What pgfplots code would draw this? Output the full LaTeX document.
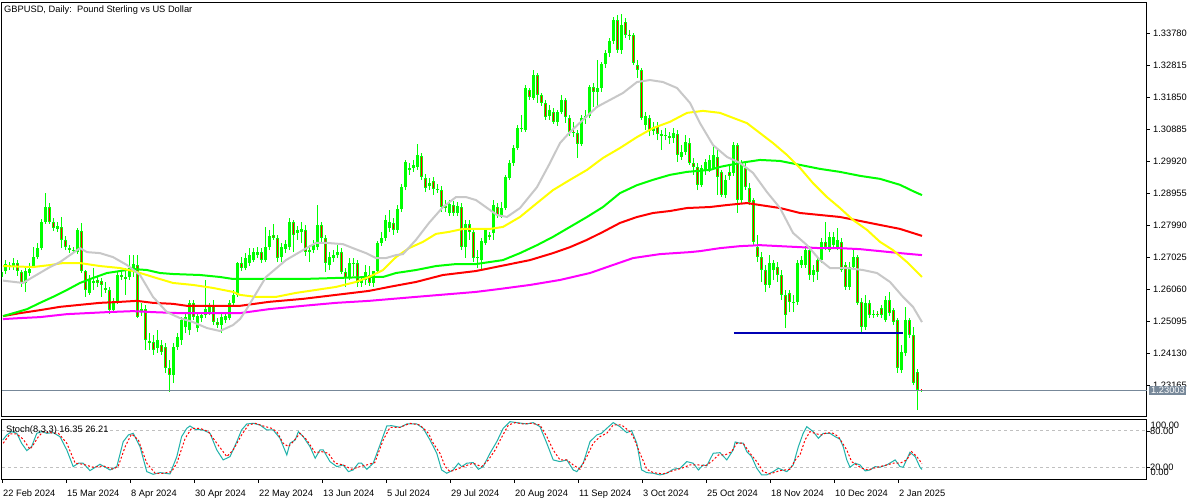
\documentclass[border=0pt]{standalone}
\usepackage{fontspec}
\setmainfont{Liberation Sans}
\usepackage{pgfplots}
\usepackage{pgfplotstable}
\pgfplotsset{compat=1.18}
\definecolor{bull}{RGB}{0,255,0}
\definecolor{bear}{RGB}{255,0,0}
\definecolor{mgn}{RGB}{255,0,255}
\definecolor{ylw}{RGB}{255,255,0}
\definecolor{gry}{RGB}{200,200,200}
\definecolor{slate}{RGB}{119,136,153}
\definecolor{stch}{RGB}{32,178,170}
\definecolor{dblue}{RGB}{0,0,180}
\definecolor{lvl}{RGB}{192,192,192}
\newcommand{\fs}{\fontsize{9.3}{11}\selectfont}

\pgfplotstableread{
i o h l c
0 1.2643 1.2676 1.2637 1.2658
1 1.2661 1.2694 1.2652 1.2682
2 1.2679 1.2688 1.2664 1.2673
3 1.2673 1.2700 1.2664 1.2685
4 1.2685 1.2694 1.2646 1.2661
5 1.2658 1.2664 1.2613 1.2625
6 1.2625 1.2670 1.2598 1.2661
7 1.2655 1.2685 1.2646 1.2667
8 1.2676 1.2733 1.2670 1.2703
9 1.2703 1.2746 1.2697 1.2730
10 1.2730 1.2818 1.2724 1.2809
11 1.2809 1.2896 1.2803 1.2854
12 1.2854 1.2866 1.2803 1.2809
13 1.2809 1.2821 1.2782 1.2791
14 1.2788 1.2809 1.2779 1.2797
15 1.2794 1.2824 1.2730 1.2755
16 1.2755 1.2767 1.2724 1.2733
17 1.2730 1.2739 1.2715 1.2724
18 1.2721 1.2733 1.2715 1.2724
19 1.2718 1.2791 1.2712 1.2785
20 1.2782 1.2806 1.2655 1.2661
21 1.2661 1.2664 1.2583 1.2604
22 1.2595 1.2649 1.2589 1.2634
23 1.2625 1.2670 1.2604 1.2631
24 1.2634 1.2646 1.2613 1.2625
25 1.2631 1.2640 1.2583 1.2619
26 1.2610 1.2628 1.2595 1.2604
27 1.2604 1.2613 1.2531 1.2543
28 1.2543 1.2580 1.2534 1.2568
29 1.2568 1.2658 1.2562 1.2649
30 1.2649 1.2664 1.2634 1.2643
31 1.2643 1.2670 1.2589 1.2637
32 1.2643 1.2709 1.2634 1.2670
33 1.2658 1.2709 1.2643 1.2682
34 1.2679 1.2709 1.2519 1.2522
35 1.2537 1.2565 1.2525 1.2546
36 1.2546 1.2559 1.2423 1.2453
37 1.2450 1.2474 1.2423 1.2444
38 1.2447 1.2468 1.2408 1.2423
39 1.2429 1.2483 1.2414 1.2453
40 1.2438 1.2453 1.2408 1.2417
41 1.2432 1.2444 1.2353 1.2369
42 1.2369 1.2393 1.2296 1.2347
43 1.2347 1.2444 1.2323 1.2432
44 1.2432 1.2474 1.2423 1.2462
45 1.2453 1.2522 1.2438 1.2513
46 1.2492 1.2534 1.2474 1.2522
47 1.2483 1.2574 1.2468 1.2565
48 1.2565 1.2574 1.2513 1.2522
49 1.2489 1.2537 1.2477 1.2525
50 1.2519 1.2537 1.2507 1.2528
51 1.2528 1.2634 1.2519 1.2546
52 1.2537 1.2565 1.2528 1.2552
53 1.2559 1.2574 1.2498 1.2507
54 1.2507 1.2519 1.2489 1.2498
55 1.2498 1.2534 1.2474 1.2522
56 1.2513 1.2537 1.2504 1.2525
57 1.2519 1.2574 1.2513 1.2565
58 1.2565 1.2604 1.2556 1.2589
59 1.2589 1.2688 1.2583 1.2685
60 1.2685 1.2703 1.2661 1.2670
61 1.2670 1.2715 1.2664 1.2700
62 1.2685 1.2730 1.2676 1.2709
63 1.2694 1.2730 1.2688 1.2718
64 1.2709 1.2733 1.2700 1.2718
65 1.2718 1.2730 1.2685 1.2694
66 1.2694 1.2794 1.2688 1.2733
67 1.2733 1.2785 1.2724 1.2767
68 1.2770 1.2803 1.2755 1.2761
69 1.2761 1.2770 1.2688 1.2700
70 1.2703 1.2746 1.2688 1.2733
71 1.2727 1.2755 1.2715 1.2742
72 1.2733 1.2821 1.2724 1.2809
73 1.2809 1.2815 1.2718 1.2770
74 1.2776 1.2797 1.2755 1.2785
75 1.2779 1.2809 1.2746 1.2788
76 1.2785 1.2800 1.2706 1.2718
77 1.2718 1.2739 1.2688 1.2724
78 1.2724 1.2755 1.2715 1.2739
79 1.2733 1.2860 1.2724 1.2800
80 1.2800 1.2809 1.2749 1.2761
81 1.2761 1.2770 1.2658 1.2685
82 1.2679 1.2718 1.2664 1.2703
83 1.2700 1.2724 1.2688 1.2709
84 1.2709 1.2739 1.2700 1.2718
85 1.2718 1.2730 1.2652 1.2658
86 1.2658 1.2670 1.2613 1.2640
87 1.2643 1.2700 1.2634 1.2685
88 1.2682 1.2700 1.2646 1.2685
89 1.2685 1.2694 1.2613 1.2625
90 1.2625 1.2646 1.2613 1.2634
91 1.2634 1.2679 1.2619 1.2658
92 1.2649 1.2676 1.2616 1.2625
93 1.2625 1.2658 1.2613 1.2661
94 1.2661 1.2752 1.2652 1.2746
95 1.2746 1.2779 1.2737 1.2761
96 1.2761 1.2830 1.2752 1.2815
97 1.2791 1.2845 1.2779 1.2809
98 1.2806 1.2821 1.2770 1.2785
99 1.2785 1.2860 1.2776 1.2848
100 1.2848 1.2923 1.2839 1.2914
101 1.2914 1.2996 1.2905 1.2990
102 1.2966 1.2987 1.2951 1.2972
103 1.2972 1.2996 1.2960 1.2981
104 1.2975 1.3044 1.2966 1.3011
105 1.3008 1.3017 1.2936 1.2945
106 1.2942 1.2954 1.2899 1.2911
107 1.2917 1.2942 1.2905 1.2926
108 1.2932 1.2945 1.2890 1.2908
109 1.2905 1.2923 1.2896 1.2908
110 1.2905 1.2917 1.2839 1.2854
111 1.2857 1.2875 1.2839 1.2851
112 1.2836 1.2875 1.2827 1.2863
113 1.2860 1.2872 1.2827 1.2836
114 1.2836 1.2869 1.2827 1.2857
115 1.2854 1.2866 1.2724 1.2733
116 1.2733 1.2815 1.2700 1.2803
117 1.2803 1.2815 1.2755 1.2779
118 1.2779 1.2791 1.2688 1.2700
119 1.2700 1.2724 1.2670 1.2703
120 1.2694 1.2761 1.2667 1.2752
121 1.2746 1.2791 1.2739 1.2785
122 1.2770 1.2779 1.2755 1.2764
123 1.2776 1.2875 1.2755 1.2860
124 1.2854 1.2866 1.2821 1.2830
125 1.2824 1.2869 1.2821 1.2851
126 1.2851 1.2951 1.2845 1.2945
127 1.2942 1.2996 1.2936 1.2987
128 1.2987 1.3041 1.2978 1.3032
129 1.3032 1.3102 1.3026 1.3092
130 1.3089 1.3132 1.3080 1.3092
131 1.3086 1.3222 1.3080 1.3213
132 1.3207 1.3213 1.3177 1.3186
133 1.3183 1.3267 1.3177 1.3252
134 1.3252 1.3258 1.3168 1.3192
135 1.3192 1.3198 1.3159 1.3168
136 1.3168 1.3177 1.3117 1.3126
137 1.3129 1.3162 1.3117 1.3147
138 1.3141 1.3153 1.3105 1.3111
139 1.3111 1.3147 1.3099 1.3141
140 1.3141 1.3192 1.3135 1.3177
141 1.3177 1.3183 1.3108 1.3126
142 1.3123 1.3132 1.3068 1.3080
143 1.3080 1.3111 1.3065 1.3077
144 1.3077 1.3086 1.3002 1.3044
145 1.3044 1.3132 1.3038 1.3123
146 1.3123 1.3147 1.3105 1.3129
147 1.3129 1.3222 1.3123 1.3216
148 1.3216 1.3228 1.3156 1.3201
149 1.3201 1.3297 1.3153 1.3213
150 1.3213 1.3291 1.3201 1.3285
151 1.3285 1.3328 1.3273 1.3319
152 1.3319 1.3364 1.3307 1.3355
153 1.3355 1.3427 1.3346 1.3418
154 1.3418 1.3433 1.3319 1.3328
155 1.3328 1.3436 1.3316 1.3403
156 1.3412 1.3424 1.3364 1.3373
157 1.3373 1.3388 1.3358 1.3370
158 1.3373 1.3379 1.3282 1.3288
159 1.3282 1.3297 1.3243 1.3267
160 1.3267 1.3273 1.3117 1.3123
161 1.3102 1.3141 1.3086 1.3129
162 1.3123 1.3132 1.3068 1.3083
163 1.3083 1.3111 1.3071 1.3095
164 1.3098 1.3111 1.3056 1.3074
165 1.3074 1.3086 1.3026 1.3068
166 1.3068 1.3092 1.3056 1.3071
167 1.3068 1.3080 1.3044 1.3062
168 1.3062 1.3092 1.3047 1.3077
169 1.3074 1.3086 1.2990 1.3011
170 1.3005 1.3041 1.2996 1.3020
171 1.3020 1.3071 1.3011 1.3050
172 1.3047 1.3062 1.2981 1.2987
173 1.2987 1.3002 1.2951 1.2975
174 1.2975 1.2987 1.2905 1.2920
175 1.2920 1.2981 1.2914 1.2972
176 1.2966 1.2999 1.2951 1.2990
177 1.2966 1.3011 1.2960 1.2996
178 1.2972 1.3041 1.2966 1.3011
179 1.3005 1.3026 1.2890 1.2945
180 1.2960 1.2966 1.2884 1.2890
181 1.2890 1.2951 1.2881 1.2936
182 1.2960 1.2981 1.2936 1.2948
183 1.2957 1.3050 1.2948 1.3041
184 1.3041 1.3047 1.2836 1.2875
185 1.2875 1.2996 1.2866 1.2987
186 1.2972 1.2990 1.2905 1.2914
187 1.2911 1.2926 1.2860 1.2869
188 1.2875 1.2881 1.2739 1.2749
189 1.2733 1.2770 1.2688 1.2703
190 1.2703 1.2718 1.2628 1.2664
191 1.2664 1.2679 1.2598 1.2619
192 1.2619 1.2709 1.2610 1.2685
193 1.2664 1.2694 1.2634 1.2685
194 1.2673 1.2688 1.2628 1.2649
195 1.2649 1.2664 1.2574 1.2589
196 1.2589 1.2604 1.2489 1.2528
197 1.2595 1.2604 1.2537 1.2568
198 1.2565 1.2589 1.2537 1.2568
199 1.2568 1.2694 1.2559 1.2685
200 1.2679 1.2706 1.2670 1.2694
201 1.2679 1.2736 1.2670 1.2724
202 1.2724 1.2736 1.2634 1.2649
203 1.2649 1.2679 1.2628 1.2664
204 1.2694 1.2700 1.2634 1.2658
205 1.2694 1.2761 1.2685 1.2749
206 1.2749 1.2809 1.2724 1.2733
207 1.2724 1.2779 1.2718 1.2764
208 1.2739 1.2779 1.2730 1.2764
209 1.2733 1.2791 1.2724 1.2755
210 1.2749 1.2761 1.2658 1.2664
211 1.2679 1.2688 1.2604 1.2613
212 1.2613 1.2688 1.2604 1.2673
213 1.2673 1.2724 1.2664 1.2703
214 1.2703 1.2709 1.2559 1.2565
215 1.2568 1.2580 1.2477 1.2492
216 1.2492 1.2589 1.2483 1.2565
217 1.2565 1.2574 1.2519 1.2528
218 1.2528 1.2543 1.2519 1.2531
219 1.2531 1.2540 1.2522 1.2528
220 1.2549 1.2559 1.2519 1.2528
221 1.2513 1.2586 1.2507 1.2574
222 1.2574 1.2598 1.2525 1.2534
223 1.2543 1.2549 1.2498 1.2507
224 1.2513 1.2519 1.2353 1.2368
225 1.2362 1.2438 1.2353 1.2417
226 1.2414 1.2552 1.2405 1.2513
227 1.2513 1.2519 1.2459 1.2468
228 1.2468 1.2492 1.2317 1.2323
229 1.2356 1.2365 1.2242 1.2302
230 1.2301 1.2305 1.2297 1.2300
}\candles

\begin{document}
\begin{tikzpicture}[x=1pt,y=1pt]
\fill[white] (0,0) rectangle (1200,-500);
\begin{axis}[
  at={(2pt,-3pt)}, anchor=north west, scale only axis,
  width=1145pt, height=414pt,
  xmin=0, xmax=286.25, ymin=1.222073, ymax=1.346935,
  xtick=\empty,
  ytick={1.23165,1.24130,1.25095,1.26060,1.27025,1.27990,1.28955,1.29920,1.30885,1.31850,1.32815,1.33780},
  yticklabels={1.23165,1.24130,1.25095,1.26060,1.27025,1.27990,1.28955,1.29920,1.30885,1.31850,1.32815,1.33780},
  ytick pos=right, yticklabel pos=right,
  tick align=outside, major tick length=3pt,
  tick style={black, line width=0.8pt},
  yticklabel style={font=\fs, anchor=west, inner sep=0pt, xshift=3pt},
  axis line style={black, line width=1pt},
]
\addplot[bull, mark=none, line width=1pt, quiver={u=0, v=\thisrow{h}-\thisrow{l}}] table[x=i, y=l] {\candles};
\addplot[bull, mark=none, line width=3pt, quiver={u=0, v=\thisrow{c}-\thisrow{o}}] table[x=i, y=o] {\candles};
\addplot[bear, mark=none, line width=1pt, quiver={u=0, v=\thisrow{c}-\thisrow{o}, every arrow/.append style={shorten <=1pt, shorten >=1pt}}, restrict expr to domain={\thisrow{o}-\thisrow{c}}{0.00005:1}] table[x=i, y=o] {\candles};
\addplot[mgn, line width=2pt, mark=none] coordinates {(0.25,1.2516) (4.5,1.2519) (9.5,1.2522) (16.25,1.2531) (21.25,1.2534) (26.25,1.2537) (32.75,1.2540) (37.75,1.2537) (44.5,1.2534) (59.5,1.2534) (66.75,1.2546) (75.25,1.2556) (83.5,1.2565) (91.75,1.2571) (103.5,1.2583) (118.5,1.2598) (124.5,1.2607) (132,1.2619) (139.5,1.2634) (147,1.2655) (152,1.2676) (157.75,1.2700) (164.5,1.2712) (172,1.2718) (174.5,1.2721) (179.5,1.2730) (184.5,1.2736) (189.5,1.2739) (194.5,1.2736) (199.5,1.2733) (204.5,1.2730) (209.5,1.2730) (214.5,1.2727) (219.5,1.2721) (224.5,1.2715) (230,1.2709)};
\addplot[bear, line width=2pt, mark=none] coordinates {(0.25,1.2525) (4.5,1.2534) (9.5,1.2543) (14.5,1.2553) (19.5,1.2559) (24.5,1.2565) (29.5,1.2568) (33.75,1.2571) (37.75,1.2565) (42.75,1.2562) (46.25,1.2556) (59.5,1.2556) (66.75,1.2568) (75.25,1.2577) (83.5,1.2589) (91.75,1.2601) (96.75,1.2613) (103.5,1.2628) (110.25,1.2649) (118.5,1.2661) (132,1.2694) (137.75,1.2715) (142,1.2733) (146.25,1.2755) (150.25,1.2779) (154.5,1.2806) (158.75,1.2824) (162.75,1.2836) (167,1.2842) (171.25,1.2851) (177,1.2854) (181.25,1.2860) (186.25,1.2866) (189.5,1.2860) (194.5,1.2851) (199.5,1.2836) (204.5,1.2830) (209.5,1.2824) (214.5,1.2812) (219.5,1.2800) (224.5,1.2788) (230,1.2767)};
\addplot[bull, line width=2pt, mark=none] coordinates {(0.25,1.2525) (3.75,1.2537) (6.25,1.2546) (9.5,1.2565) (12.75,1.2583) (16.25,1.2604) (19.5,1.2625) (22.75,1.2640) (26.25,1.2655) (29.5,1.2661) (32.75,1.2667) (36.25,1.2664) (39.5,1.2655) (42.75,1.2652) (49.5,1.2649) (54.5,1.2643) (57.75,1.2637) (66.75,1.2637) (75.25,1.2637) (83.5,1.2640) (91.75,1.2643) (95.25,1.2643) (98.5,1.2655) (103.5,1.2664) (108.5,1.2676) (113.5,1.2682) (118.5,1.2682) (125.25,1.2694) (129.5,1.2715) (133.75,1.2739) (137.75,1.2764) (142,1.2794) (146.25,1.2824) (150.25,1.2854) (154.5,1.2896) (158.75,1.2920) (162.75,1.2936) (167,1.2951) (171.25,1.2960) (177,1.2966) (179.5,1.2975) (184.5,1.2987) (189.5,1.2996) (194.5,1.2993) (199.5,1.2981) (204.5,1.2969) (209.5,1.2960) (214.5,1.2948) (219.5,1.2939) (224.5,1.2921) (227.75,1.2902) (230,1.2890)};
\addplot[ylw, line width=2pt, mark=none] coordinates {(0.25,1.2676) (7.75,1.2673) (12,1.2679) (15.25,1.2685) (19.5,1.2685) (24.5,1.2676) (29.5,1.2670) (33.75,1.2658) (37.75,1.2643) (42.75,1.2625) (47.75,1.2619) (52.75,1.2610) (57.75,1.2598) (59.5,1.2589) (63.5,1.2583) (68.5,1.2583) (73.5,1.2595) (78.5,1.2604) (83.5,1.2613) (88.5,1.2628) (91.75,1.2643) (95.25,1.2664) (98.5,1.2703) (101.75,1.2730) (105.25,1.2749) (108.5,1.2773) (111.75,1.2779) (115.25,1.2788) (118.5,1.2788) (122,1.2788) (125.25,1.2794) (129.5,1.2824) (133.75,1.2866) (137.75,1.2905) (142,1.2936) (146.25,1.2966) (150.25,1.3002) (154.5,1.3032) (158.75,1.3065) (162.75,1.3092) (167,1.3111) (171.25,1.3138) (175.25,1.3144) (179.5,1.3138) (182.75,1.3123) (186.25,1.3107) (189.5,1.3077) (192.75,1.3047) (196.25,1.3011) (199.5,1.2972) (202.75,1.2926) (206.25,1.2884) (209.5,1.2851) (212.75,1.2815) (216.25,1.2785) (219.5,1.2749) (222.75,1.2724) (226.25,1.2688) (230,1.2643)};
\addplot[gry, line width=2pt, mark=none] coordinates {(0.25,1.2632) (5.25,1.2625) (7.75,1.2643) (12,1.2673) (14.5,1.2688) (19.5,1.2730) (21.25,1.2718) (24.5,1.2715) (27.75,1.2703) (31.25,1.2679) (34.5,1.2649) (37.75,1.2583) (41.25,1.2537) (44.5,1.2519) (47.75,1.2507) (51.25,1.2489) (54.5,1.2480) (57.75,1.2498) (59.5,1.2516) (61,1.2543) (66,1.2643) (71,1.2694) (75.25,1.2724) (78.5,1.2746) (81,1.2746) (85.25,1.2742) (87.75,1.2730) (91,1.2715) (93.5,1.2700) (96,1.2700) (98.5,1.2709) (100.25,1.2712) (103.5,1.2755) (106.75,1.2806) (110.25,1.2854) (113.5,1.2884) (116,1.2884) (118.5,1.2875) (120.25,1.2860) (123.75,1.2830) (126.25,1.2824) (129.5,1.2851) (133.75,1.2914) (137,1.2987) (139.5,1.3047) (142,1.3080) (145.25,1.3117) (148.75,1.3156) (152,1.3177) (155.25,1.3198) (158.75,1.3231) (162,1.3237) (165.25,1.3231) (168.75,1.3213) (172,1.3168) (174.5,1.3107) (177.75,1.3041) (181.25,1.3005) (184.5,1.2987) (187.75,1.2957) (191.25,1.2899) (194.5,1.2851) (197.75,1.2776) (201.25,1.2739) (204.5,1.2694) (207,1.2670) (211.25,1.2670) (215.25,1.2664) (218.75,1.2655) (222,1.2628) (225.25,1.2583) (227.75,1.2553) (230,1.2507)};
\addplot[dblue, line width=2pt, mark=none] coordinates {(183,1.2475) (225.2,1.2475)};
\addplot[slate, line width=1pt, mark=none] coordinates {(0,1.23003) (286.25,1.23003)};
\end{axis}

\begin{axis}[
  at={(2pt,-419.5pt)}, anchor=north west, scale only axis,
  width=1145pt, height=59.5pt,
  xmin=0, xmax=286.25, ymin=0.5, ymax=99,
  xtick={0,16,...,224},
  xticklabels={22 Feb 2024,15 Mar 2024,8 Apr 2024,30 Apr 2024,22 May 2024,13 Jun 2024,5 Jul 2024,29 Jul 2024,20 Aug 2024,11 Sep 2024,3 Oct 2024,25 Oct 2024,18 Nov 2024,10 Dec 2024,2 Jan 2025},
  xtick pos=bottom, ytick={20,80}, yticklabels={}, ytick pos=right,
  tick align=outside, major tick length=3.5pt,
  tick style={black, line width=0.8pt},
  xticklabel style={font=\fs, anchor=base west, inner sep=0pt, xshift=1pt, yshift=-13.5pt},
  axis line style={black, line width=1pt},
]
\addplot[lvl, line width=1pt, dash pattern=on 3pt off 3pt, mark=none] coordinates {(0,80) (286.25,80)};
\addplot[lvl, line width=1pt, dash pattern=on 3pt off 3pt, mark=none] coordinates {(0,20) (286.25,20)};
\addplot[stch, line width=1pt, mark=none] coordinates {(0.2,65.1) (1.2,73.4) (2.4,78.9) (3.7,76.2) (4.9,59.7) (6.2,47.5) (7.4,54.1) (8.7,76.2) (9.9,78.9) (11.2,76.2) (12.8,77.2) (14.5,70.6) (16.2,48.6) (17.8,21.0) (19.1,26.6) (20.3,26.6) (22,14.4) (24.5,24.9) (27,15.5) (28.7,21.0) (30.3,62.3) (31.6,73.4) (32.8,76.2) (34.5,54.1) (36.2,12.7) (37.8,8.3) (39.5,11.1) (42,8.9) (43.7,37.5) (44.9,70.6) (46.2,84.4) (47,88.3) (48.3,82.7) (50.3,81.7) (52,76.2) (53.7,48.6) (55.3,32.1) (57,37.5) (58.7,62.3) (59.9,81.7) (61.2,91.6) (62.8,92.7) (64.5,89.9) (66.2,81.7) (67.8,81.7) (69.5,67.9) (71.2,40.3) (72,59.7) (73.3,65.1) (74.1,78.9) (75.3,70.6) (77,54.1) (78.3,34.9) (79.5,48.6) (80.3,48.6) (82,29.3) (83.7,21.0) (85.3,23.8) (86.6,12.7) (87.8,15.5) (89.1,26.6) (89.9,26.6) (91.2,16.6) (92.8,26.6) (94.5,56.9) (96.2,88.3) (97.4,88.8) (99.5,86.0) (101.2,91.6) (103.7,91.6) (105.3,84.4) (107,65.1) (108.7,43.1) (109.9,15.5) (111.2,10.0) (112.8,15.5) (114.1,26.6) (114.9,21.0) (116.2,26.6) (117.8,27.7) (119.1,16.6) (120.3,21.0) (122,43.1) (123.7,62.3) (125.3,84.4) (127,95.4) (128.7,93.8) (131.2,91.6) (132.8,93.8) (134.5,87.1) (136.2,59.7) (137.8,32.1) (139.5,29.3) (141.2,32.1) (142.8,15.5) (143.7,12.7) (145.3,26.6) (147,62.3) (148.7,73.4) (149.9,76.2) (151.2,84.4) (152.8,93.8) (154.5,87.1) (156.2,77.2) (157.4,80.6) (158.7,59.7) (159.9,15.5) (161.2,11.1) (162.8,10.0) (164.5,7.3) (166.2,10.0) (167.8,16.6) (169.5,18.3) (171.2,29.3) (172.8,26.6) (174.1,15.5) (175.3,23.8) (176.2,22.2) (177.8,43.1) (179.5,44.1) (181.2,32.1) (182.8,48.6) (183.3,61.8) (184.5,59.7) (185.3,59.7) (186.2,45.8) (187.4,37.5) (188.7,18.3) (189.9,7.3) (191.2,7.3) (192.8,12.7) (194.1,18.3) (196.2,12.7) (197.8,23.8) (199.1,54.1) (200.3,76.2) (201.2,87.1) (202.8,78.9) (204.1,67.9) (205.3,76.2) (207,76.2) (208.3,70.6) (209.5,66.3) (210.3,54.1) (211.2,32.1) (212,20.0) (213.3,26.6) (214.5,23.8) (215.8,13.9) (217,15.5) (218.3,21.0) (219.5,20.0) (221.2,23.8) (223.3,32.1) (224.5,21.0) (225.3,20.0) (227,44.8) (228.3,37.5) (229.5,20.0) (230,16.35)};
\addplot[bear, line width=1pt, dash pattern=on 2pt off 2pt, mark=none] coordinates {(0.3,59.7) (2,75.1) (3.7,75.1) (5.3,66.3) (7,49.7) (7.8,56.9) (9.1,70.6) (10.3,78.9) (12,77.2) (14.1,76.2) (16.2,59.7) (18.3,26.6) (20.3,24.9) (22.8,19.9) (25.3,22.2) (27.8,16.6) (29.1,22.2) (30.8,54.1) (32.4,75.1) (34.1,65.1) (36.2,26.6) (38.3,10.0) (40.3,10.0) (42.4,12.7) (43.7,26.6) (45.8,67.9) (47.4,84.4) (49.5,84.4) (51.6,78.9) (53.7,59.7) (56.2,37.5) (57.8,48.6) (59.9,73.4) (61.6,89.9) (63.3,92.7) (65.3,88.3) (67.4,84.4) (68.7,78.9) (70.3,59.7) (71.6,54.1) (72.8,62.3) (74.5,76.2) (76.2,65.1) (78.3,44.1) (79.9,45.8) (81.6,43.1) (83.3,26.6) (85.3,23.8) (87.4,16.6) (89.5,21.0) (91.2,23.8) (93.2,27.7) (95.3,65.1) (97,86.0) (99.5,86.0) (102,92.7) (104.5,89.9) (106.6,76.2) (107.8,59.7) (109.5,43.1) (110.8,21.0) (112,12.7) (113.7,16.6) (115.8,22.2) (117.8,26.6) (119.9,21.0) (121.6,32.1) (123.3,48.6) (125,70.6) (126.6,89.9) (128.3,93.8) (130.3,91.6) (132.4,92.7) (134.5,89.9) (136.2,70.6) (137.8,48.6) (139.5,32.1) (141.2,32.1) (142.8,23.8) (144.5,16.6) (146.2,37.5) (147.8,59.7) (149.5,70.6) (151.2,76.2) (152.8,89.9) (154.9,89.9) (157,78.9) (157.8,70.6) (159.5,43.1) (161.2,16.6) (162.8,11.1) (165.3,8.9) (167.8,14.4) (169.9,18.3) (172,23.8) (174.1,23.8) (175.8,22.2) (177.4,29.3) (179.1,40.3) (180.8,40.3) (182.4,45.8) (183.7,59.7) (185.3,59.7) (187,43.1) (188.7,29.3) (190.3,12.7) (192,8.9) (194.5,14.4) (197,16.6) (198.6,34.9) (199.5,40.3) (200.75,65.1) (202,78.9) (203.7,75.1) (204.9,73.4) (206.2,77.2) (207.8,76.2) (209.1,70.6) (209.9,62.3) (211.2,48.6) (212.4,29.3) (213.7,23.8) (214.9,18.3) (216.6,15.5) (217.8,18.3) (219.5,21.0) (221.2,23.8) (222.8,26.6) (224.5,26.6) (226.2,32.1) (227.4,45.8) (228.7,37.5) (230,26.21)};
\end{axis}

\node[anchor=base west, inner sep=0pt, font=\fs] at (4,-12.3) {GBPUSD, Daily:\ \ Pound Sterling vs US Dollar};
\node[anchor=base west, inner sep=0pt, font=\fs] at (6,-432.5) {Stoch(8,3,3) 16.35 26.21};
\node[anchor=base west, inner sep=0pt, font=\fs] at (1150.5,-428.7) {100.00};
\node[anchor=base west, inner sep=0pt, font=\fs] at (1150,-434.3) {80.00};
\node[anchor=base west, inner sep=0pt, font=\fs] at (1150,-470) {20.00};
\node[anchor=base west, inner sep=0pt, font=\fs] at (1150.5,-475.3) {0.00};
\fill[slate] (1149,-385.7) rectangle (1185.5,-395.3);
\node[anchor=base west, inner sep=0pt, font=\fs, text=white] at (1151,-393.8) {1.23003};
\end{tikzpicture}
\end{document}
